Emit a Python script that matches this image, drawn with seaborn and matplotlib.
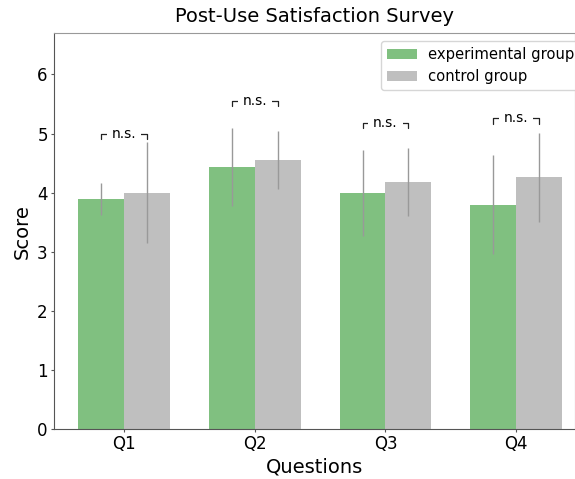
import pandas as pd
import matplotlib
matplotlib.use('Agg')
import matplotlib.pyplot as plt
import seaborn as sns

# Survey values
questions = ['Q1', 'Q2', 'Q3', 'Q4']
exp_mean = [3.90, 4.44, 4.00, 3.80]
ctrl_mean = [4.00, 4.55, 4.18, 4.26]
exp_sd = [0.27, 0.66, 0.73, 0.83]
ctrl_sd = [0.85, 0.49, 0.57, 0.75]
bracket_y = [5.00, 5.55, 5.18, 5.26]
sig_labels = ['n.s.', 'n.s.', 'n.s.', 'n.s.']

df = pd.DataFrame({
    'Question': questions * 2,
    'Score': exp_mean + ctrl_mean,
    'Group': ['experimental group'] * 4 + ['control group'] * 4,
})

sns.set_style('ticks')
plt.rcParams['font.family'] = ['DejaVu Sans']
plt.rcParams['text.color'] = 'black'
plt.rcParams['axes.labelcolor'] = 'black'

fig = plt.figure(figsize=(5.75, 4.79), dpi=100)
ax = fig.add_axes([0.094, 0.104, 0.906, 0.827])

sns.barplot(data=df, x='Question', y='Score', hue='Group',
            palette=['#80c080', '#bfbfbf'], width=0.7, gap=0,
            errorbar=None, saturation=1, linewidth=0, ax=ax)

# Error bars (standard deviation) on top of each bar
for cont, sds in zip(ax.containers, [exp_sd, ctrl_sd]):
    xs = [p.get_x() + p.get_width() / 2 for p in cont.patches]
    ys = [p.get_height() for p in cont.patches]
    ax.errorbar(xs, ys, yerr=sds, fmt='none', ecolor='#999999', elinewidth=1, capsize=0)

# Significance brackets
for i, (y, lab) in enumerate(zip(bracket_y, sig_labels)):
    x1 = ax.containers[0].patches[i].get_x() + ax.containers[0].patches[i].get_width() / 2
    x2 = ax.containers[1].patches[i].get_x() + ax.containers[1].patches[i].get_width() / 2
    ax.plot([x1, x1, x2, x2], [y - 0.09, y, y, y - 0.09], color='#222222', lw=0.9)
    ax.text((x1 + x2) / 2, y, lab, ha='center', va='center', fontsize=10,
            bbox=dict(facecolor='white', edgecolor='none', pad=3.5))

ax.set_ylim(0, 6.7)
ax.set_xlim(-0.536, 3.45)
ax.set_yticks([0, 1, 2, 3, 4, 5, 6])
ax.tick_params(labelsize=12, color='#555555', length=2.5, pad=2,
               labelcolor='black')
ax.set_title('Post-Use Satisfaction Survey', fontsize=14, pad=8, color='black')
ax.set_xlabel('Questions', fontsize=14, labelpad=3)
ax.set_ylabel('Score', fontsize=14)
for side in ['left', 'bottom']:
    ax.spines[side].set_color('#555555')
for side in ['top', 'right']:
    ax.spines[side].set_color('#999999')

leg = ax.legend(loc='upper left', bbox_to_anchor=(0.628, 0.98), borderaxespad=0,
                fontsize=10.6, frameon=True, title=None)
for t in leg.get_texts():
    t.set_color('black')

fig.savefig('out.png', dpi=100)
